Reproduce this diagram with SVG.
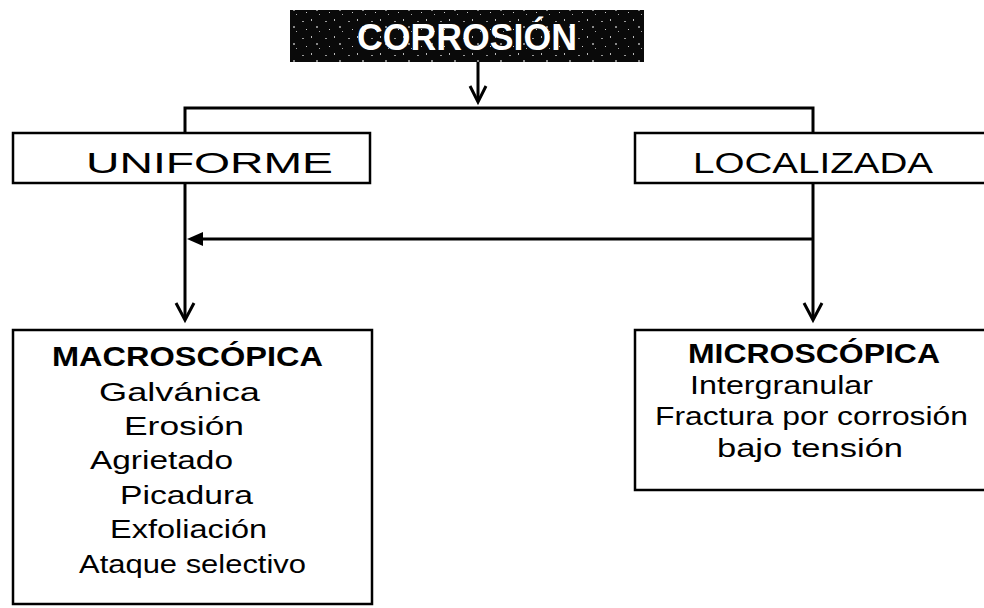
<svg xmlns="http://www.w3.org/2000/svg" width="984" height="608" viewBox="0 0 984 608">
<style>
.box{fill:#fff;stroke:#000;stroke-width:2.5}
.ln{fill:none;stroke:#000;stroke-width:3}
.t{font-family:"Liberation Sans",Arial,sans-serif;font-size:25px;fill:#000}
.h{font-size:30px}
.b{font-weight:bold;font-size:28px}
.title{font-family:"Liberation Sans",Arial,sans-serif;font-size:36px;font-weight:bold;fill:#fff}
</style>
<defs>
<pattern id="speck" width="23" height="17" patternUnits="userSpaceOnUse">
<rect width="23" height="17" fill="#0a0a0a"/>
<rect x="3" y="4" width="2" height="1" fill="#9a9a9a"/>
<rect x="12" y="2" width="1" height="2" fill="#bbb"/>
<rect x="17" y="9" width="2" height="2" fill="#888"/>
<rect x="7" y="12" width="1" height="1" fill="#ccc"/>
<rect x="20" y="14" width="1" height="1" fill="#aaa"/>
</pattern>
</defs>
<g id="connectors">
<line class="ln" x1="478" y1="62" x2="478" y2="101"/>
<path d="M470,86 L478,102 L486,86" class="ln"/>
<polyline class="ln" points="185,133 185,108 813,108 813,133"/>
<line class="ln" x1="185" y1="183" x2="185" y2="319"/>
<path d="M176,303 L185,320 L194,303" class="ln"/>
<line class="ln" x1="813" y1="183" x2="813" y2="319"/>
<path d="M804,303 L813,320 L822,303" class="ln"/>
<line class="ln" x1="813" y1="239" x2="201" y2="239"/>
<path d="M203,232 L187,239 L203,246 Z" fill="#000"/>
</g>
<g id="corrosion">
<rect x="290" y="10" width="354" height="52" fill="url(#speck)"/>
<text class="title" x="357" y="50" textLength="220" lengthAdjust="spacingAndGlyphs">CORROSIÓN</text>
</g>
<g id="uniforme">
<rect class="box" x="13" y="133" width="357" height="50"/>
<text class="t h" x="86" y="173" textLength="247" lengthAdjust="spacingAndGlyphs">UNIFORME</text>
</g>
<g id="localizada">
<rect class="box" x="635" y="133" width="360" height="50"/>
<text class="t h" x="693" y="173" textLength="240" lengthAdjust="spacingAndGlyphs">LOCALIZADA</text>
</g>
<g id="macroscopica">
<rect class="box" x="13" y="330" width="359" height="274"/>
<text class="t b" x="52" y="366" textLength="271" lengthAdjust="spacingAndGlyphs">MACROSCÓPICA</text>
<text class="t" x="99" y="401" textLength="161" lengthAdjust="spacingAndGlyphs">Galvánica</text>
<text class="t" x="124" y="435" textLength="120" lengthAdjust="spacingAndGlyphs">Erosión</text>
<text class="t" x="90" y="469" textLength="143" lengthAdjust="spacingAndGlyphs">Agrietado</text>
<text class="t" x="120" y="504" textLength="133" lengthAdjust="spacingAndGlyphs">Picadura</text>
<text class="t" x="110" y="538" textLength="157" lengthAdjust="spacingAndGlyphs">Exfoliación</text>
<text class="t" x="79" y="573" textLength="227" lengthAdjust="spacingAndGlyphs">Ataque selectivo</text>
</g>
<g id="microscopica">
<rect class="box" x="635" y="330" width="360" height="160"/>
<text class="t b" x="688" y="363" textLength="252" lengthAdjust="spacingAndGlyphs">MICROSCÓPICA</text>
<text class="t" x="690" y="394" textLength="183" lengthAdjust="spacingAndGlyphs">Intergranular</text>
<text class="t" x="655" y="425" textLength="313" lengthAdjust="spacingAndGlyphs">Fractura por corrosión</text>
<text class="t" x="717" y="457" textLength="186" lengthAdjust="spacingAndGlyphs">bajo tensión</text>
</g>
</svg>
